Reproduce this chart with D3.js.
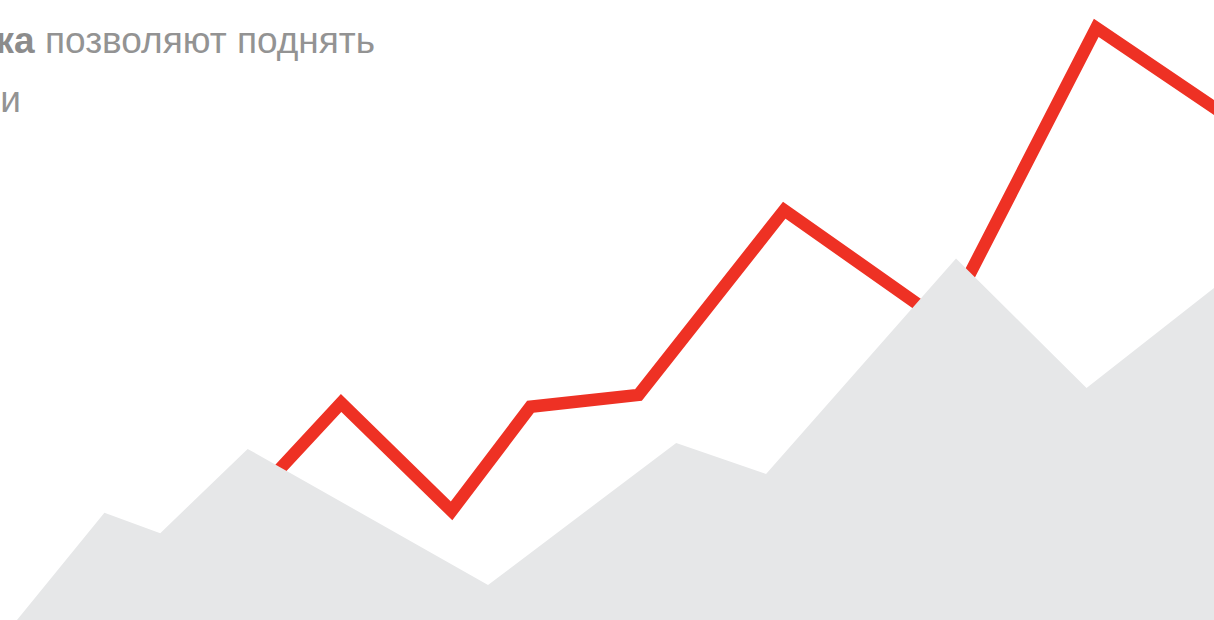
<!DOCTYPE html>
<html>
<head>
<meta charset="utf-8">
<script src="https://cdn.jsdelivr.net/npm/d3@7"></script>
<style>
  html, body { margin: 0; padding: 0; background: #ffffff; overflow: hidden; }
  svg { display: block; }
</style>
</head>
<body>
<div id="chart"></div>
<script>
// Grey background area (x in 0..100 horizontal units, y in 0..100 vertical units)
const areaX = [1.4, 8.6, 13.2, 20.4, 40.2, 55.7, 63.1, 78.75, 89.5, 100, 102.2];
const areaY = [0, 17.3, 14.0, 27.6, 5.65, 28.55, 23.55, 58.3, 37.4, 53.55, 56.9];

// Red line
const lineX = [18.1, 28.1, 37.2, 43.7, 52.6, 64.6, 77.8, 90.3, 103.0];
const lineY = [13.9, 35.0, 17.6, 34.4, 36.3, 66.1, 47.9, 95.5, 78.7];

// Text fragments (cropped at the left edge in the original)
const textLine1Bold = "ка";
const textLine1 = " позволяют поднять";
const textLine2 = "и";

const W = 1214, H = 620;
const svg = d3.select("#chart").append("svg").attr("width", W).attr("height", H);

const x = d3.scaleLinear().domain([0, 100]).range([0, W]);
const y = d3.scaleLinear().domain([0, 100]).range([H, 0]);

const lineData = lineX.map((v, i) => ({ x: v, y: lineY[i] }));
const areaData = areaX.map((v, i) => ({ x: v, y: areaY[i] }));

// red line (drawn first, sits behind the area)
svg.append("path")
  .datum(lineData)
  .attr("fill", "none")
  .attr("stroke", "#ee3124")
  .attr("stroke-width", 12.5)
  .attr("stroke-linejoin", "miter")
  .attr("stroke-miterlimit", 10)
  .attr("d", d3.line().x(d => x(d.x)).y(d => y(d.y)));

// grey area
svg.append("path")
  .datum(areaData)
  .attr("fill", "#e6e7e8")
  .attr("d", d3.area().x(d => x(d.x)).y0(y(-2)).y1(d => y(d.y)));

// text
const t1 = svg.append("text")
  .attr("x", 375).attr("y", 53)
  .attr("text-anchor", "end")
  .attr("font-family", "'Liberation Sans', Arial, sans-serif")
  .attr("font-size", 37)
  .attr("fill", "#939393");
t1.append("tspan").attr("font-weight", "bold").attr("fill", "#8c8c8c").text(textLine1Bold);
t1.append("tspan").text(textLine1);

svg.append("text")
  .attr("x", 21).attr("y", 112)
  .attr("text-anchor", "end")
  .attr("font-family", "'Liberation Sans', Arial, sans-serif")
  .attr("font-size", 37)
  .attr("fill", "#939393")
  .text(textLine2);
</script>
</body>
</html>
